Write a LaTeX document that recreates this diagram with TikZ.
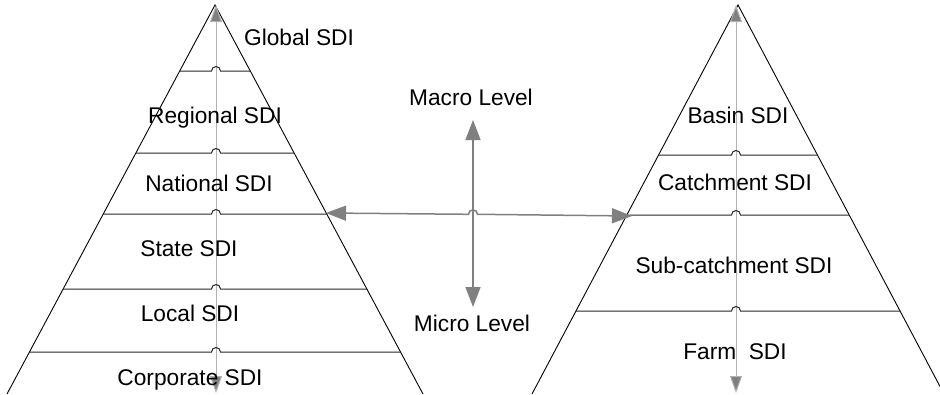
\documentclass[tikz,border=0pt]{standalone}
\usepackage{fontspec}
\setmainfont{Liberation Sans}
\usetikzlibrary{arrows.meta}
\begin{document}
\begin{tikzpicture}[x=1pt,y=-1pt,
  lbl/.style={inner sep=0pt,text height=16.2pt,text depth=0pt,font=\fontsize{22.7}{27}\selectfont},
  side/.style={draw=black,line width=0.9pt},
  level/.style={draw=black!85,line width=1pt},
  axis/.style={draw=black!30,line width=1pt,{Triangle[length=17pt,width=12pt,fill=black!50]}-{Triangle[length=17pt,width=12pt,fill=black!50]}},
  biarrow/.style={draw=black!50,line width=1.5pt,{Triangle[length=20pt,width=15pt]}-{Triangle[length=20pt,width=15pt]}},
]
\useasboundingbox (0,0) rectangle (940,394);
\clip (0,0) rectangle (940,394);
% ---- left pyramid
\coordinate (LA) at (215,5);
\coordinate (LBL) at (7,394);
\coordinate (LBR) at (423,394);
\draw[side] (LBL) -- (LA) -- (LBR);
\coordinate (LT) at (216,5);
\coordinate (LB) at (216,393);
\draw[axis] (LB) -- (LT);
\foreach \y/\xl/\xr in {71/180/250, 153/136/294, 214/103/327, 289/63/367, 352/29/401}{
  \draw[level] (\xl,\y) -- (211.5,\y) arc[start angle=180,end angle=0,radius=4.5pt] -- (\xr,\y);
}
% ---- right pyramid
\coordinate (RA) at (738,5);
\coordinate (RBL) at (532,394);
\coordinate (RBR) at (944,394);
\draw[side] (RBL) -- (RA) -- (RBR);
\coordinate (RT) at (736,5);
\coordinate (RB) at (736,393);
\draw[axis] (RB) -- (RT);
\foreach \y/\xl/\xr in {155/659/817, 215/627/849, 311/576/900}{
  \draw[level] (\xl,\y) -- (731.5,\y) arc[start angle=180,end angle=0,radius=4.5pt] -- (\xr,\y);
}
% ---- middle arrows
\coordinate (MT) at (473,120);
\coordinate (MB) at (473,307);
\draw[biarrow] (MB) -- (MT);
\coordinate (HL) at (326,213);
\coordinate (HR) at (632,216);
\draw[biarrow] (HL) -- (468.5,214.3) arc[start angle=180,end angle=0,radius=4.5pt] -- (HR);
% ---- labels
\node[lbl] (global) at (299,37) {Global SDI};
\node[lbl] (regional) at (215,115) {Regional SDI};
\node[lbl] (national) at (209,183) {National SDI};
\node[lbl] (state) at (189,248) {State SDI};
\node[lbl] (local) at (190,313) {Local SDI};
\node[lbl] (corporate) at (190,377) {Corporate SDI};
\node[lbl] (macro) at (471,97) {Macro Level};
\node[lbl] (micro) at (472,323) {Micro Level};
\node[lbl] (basin) at (738,115) {Basin SDI};
\node[lbl] (catchment) at (735,182) {Catchment SDI};
\node[lbl] (subcatch) at (734,265) {Sub-catchment SDI};
\node[lbl] (farm) at (735,351) {Farm\ \ SDI};
\end{tikzpicture}
\end{document}
